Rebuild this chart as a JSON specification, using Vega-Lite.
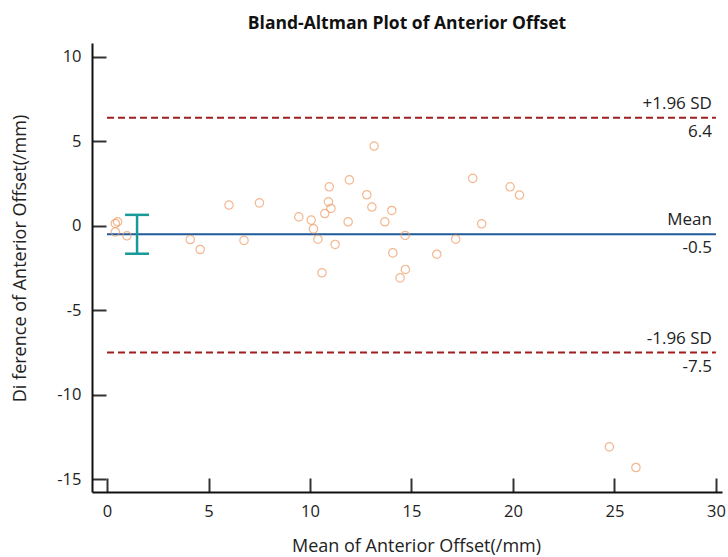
{
  "$schema": "https://vega.github.io/schema/vega-lite/v6.json",
  "width": 630,
  "height": 449,
  "autosize": "none",
  "padding": {"left": 92, "top": 43, "right": 6, "bottom": 65},
  "background": "white",
  "title": {
    "text": "Bland-Altman Plot of Anterior Offset",
    "font": "Open Sans",
    "fontSize": 17.5,
    "fontWeight": "bold",
    "color": "#111",
    "anchor": "middle",
    "offset": 11
  },
  "config": {
    "view": {"stroke": null},
    "axis": {
      "grid": false,
      "labelFont": "Open Sans",
      "labelFontSize": 16.5,
      "labelColor": "#222",
      "labelExpr": "datum.value",
      "titleFont": "Open Sans",
      "titleFontSize": 18,
      "titleFontWeight": "normal",
      "titleColor": "#222",
      "domainColor": "#111",
      "domainWidth": 2,
      "tickColor": "#333",
      "tickWidth": 2,
      "tickSize": -14,
      "labelPadding": 25
    }
  },
  "datasets": {
    "points": [
      {"mean": 0.41, "diff": 0.14},
      {"mean": 0.52, "diff": 0.24},
      {"mean": 0.41, "diff": -0.36},
      {"mean": 0.98, "diff": -0.59},
      {"mean": 4.10, "diff": -0.81},
      {"mean": 4.59, "diff": -1.40},
      {"mean": 6.01, "diff": 1.23},
      {"mean": 6.75, "diff": -0.86},
      {"mean": 7.51, "diff": 1.36},
      {"mean": 9.45, "diff": 0.53},
      {"mean": 10.06, "diff": 0.34},
      {"mean": 10.17, "diff": -0.18},
      {"mean": 10.39, "diff": -0.79},
      {"mean": 10.59, "diff": -2.78},
      {"mean": 10.73, "diff": 0.73},
      {"mean": 10.91, "diff": 1.42},
      {"mean": 10.95, "diff": 2.31},
      {"mean": 11.03, "diff": 1.03},
      {"mean": 11.24, "diff": -1.10},
      {"mean": 11.88, "diff": 0.24},
      {"mean": 11.94, "diff": 2.72},
      {"mean": 12.80, "diff": 1.84},
      {"mean": 13.05, "diff": 1.11},
      {"mean": 13.16, "diff": 4.72},
      {"mean": 13.69, "diff": 0.24},
      {"mean": 14.03, "diff": 0.91},
      {"mean": 14.08, "diff": -1.60},
      {"mean": 14.44, "diff": -3.08},
      {"mean": 14.69, "diff": -0.57},
      {"mean": 14.70, "diff": -2.58},
      {"mean": 16.25, "diff": -1.68},
      {"mean": 17.18, "diff": -0.79},
      {"mean": 18.02, "diff": 2.81},
      {"mean": 18.46, "diff": 0.12},
      {"mean": 19.86, "diff": 2.31},
      {"mean": 20.32, "diff": 1.82},
      {"mean": 24.75, "diff": -13.08},
      {"mean": 26.06, "diff": -14.30}
    ],
    "limits": [
      {"kind": "upper", "y": 6.4, "x0": 0, "x1": 30, "name": "+1.96 SD", "val": "6.4"},
      {"kind": "lower", "y": -7.5, "x0": 0, "x1": 30, "name": "-1.96 SD", "val": "-7.5"}
    ],
    "meanline": [
      {"y": -0.5, "x0": 0, "x1": 30, "name": "Mean", "val": "-0.5"}
    ],
    "ci": [
      {"x": 1.48, "lo": -1.65, "hi": 0.65, "capL": 0.89, "capR": 2.07}
    ]
  },
  "layer": [
    {
      "data": {"name": "limits"},
      "mark": {"type": "rule", "color": "#9e1f1f", "strokeWidth": 2, "strokeDash": [7, 4]},
      "encoding": {
        "x": {"field": "x0", "type": "quantitative",
              "scale": {"domain": [-0.74, 30.3], "nice": false, "zero": false},
              "axis": {"values": [0, 5, 10, 15, 20, 25, 30], "title": "Mean of Anterior Offset(/mm)", "titleX": 324, "titleY": 54, "titleBaseline": "middle"}},
        "x2": {"field": "x1"},
        "y": {"field": "y", "type": "quantitative",
              "scale": {"domain": [-15.75, 10.82], "nice": false, "zero": false},
              "axis": {"values": [-15, -10, -5, 0, 5, 10], "title": "Di ference of  Anterior Offset(/mm)", "titleX": -72, "titleY": 215, "titleAngle": -90, "titleBaseline": "middle", "titleAlign": "center"}}
      }
    },
    {
      "data": {"name": "meanline"},
      "mark": {"type": "rule", "color": "#1f5a9a", "strokeWidth": 2},
      "encoding": {
        "x": {"field": "x0", "type": "quantitative"},
        "x2": {"field": "x1"},
        "y": {"field": "y", "type": "quantitative"}
      }
    },
    {
      "data": {"name": "ci"},
      "mark": {"type": "rule", "color": "#1a9999", "strokeWidth": 2.5},
      "encoding": {
        "x": {"field": "x", "type": "quantitative"},
        "y": {"field": "lo", "type": "quantitative"},
        "y2": {"field": "hi"}
      }
    },
    {
      "data": {"name": "ci"},
      "mark": {"type": "rule", "color": "#1a9999", "strokeWidth": 2.5},
      "encoding": {
        "x": {"field": "capL", "type": "quantitative"},
        "x2": {"field": "capR"},
        "y": {"field": "lo", "type": "quantitative"}
      }
    },
    {
      "data": {"name": "ci"},
      "mark": {"type": "rule", "color": "#1a9999", "strokeWidth": 2.5},
      "encoding": {
        "x": {"field": "capL", "type": "quantitative"},
        "x2": {"field": "capR"},
        "y": {"field": "hi", "type": "quantitative"}
      }
    },
    {
      "data": {"name": "points"},
      "mark": {"type": "point", "shape": "circle", "filled": false, "color": "#ef9a62", "strokeWidth": 1.2, "size": 70},
      "encoding": {
        "x": {"field": "mean", "type": "quantitative"},
        "y": {"field": "diff", "type": "quantitative"}
      }
    },
    {
      "data": {"name": "limits"},
      "mark": {"type": "text", "align": "right", "baseline": "bottom", "dx": -4, "dy": -5, "font": "Open Sans", "fontSize": 17, "color": "#222"},
      "encoding": {
        "x": {"field": "x1", "type": "quantitative"},
        "y": {"field": "y", "type": "quantitative"},
        "text": {"field": "name"}
      }
    },
    {
      "data": {"name": "limits"},
      "mark": {"type": "text", "align": "right", "baseline": "top", "dx": -4, "dy": 6, "font": "Open Sans", "fontSize": 17, "color": "#222"},
      "encoding": {
        "x": {"field": "x1", "type": "quantitative"},
        "y": {"field": "y", "type": "quantitative"},
        "text": {"field": "val"}
      }
    },
    {
      "data": {"name": "meanline"},
      "mark": {"type": "text", "align": "right", "baseline": "bottom", "dx": -4, "dy": -5, "font": "Open Sans", "fontSize": 17, "color": "#222"},
      "encoding": {
        "x": {"field": "x1", "type": "quantitative"},
        "y": {"field": "y", "type": "quantitative"},
        "text": {"field": "name"}
      }
    },
    {
      "data": {"name": "meanline"},
      "mark": {"type": "text", "align": "right", "baseline": "top", "dx": -4, "dy": 6, "font": "Open Sans", "fontSize": 17, "color": "#222"},
      "encoding": {
        "x": {"field": "x1", "type": "quantitative"},
        "y": {"field": "y", "type": "quantitative"},
        "text": {"field": "val"}
      }
    }
  ]
}
